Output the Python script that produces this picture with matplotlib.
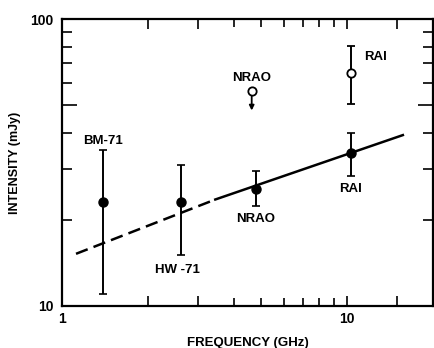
import matplotlib
matplotlib.use("Agg")
import matplotlib.pyplot as plt
from matplotlib.ticker import FixedLocator, FixedFormatter, NullFormatter

plt.rcParams['font.family'] = ['Liberation Sans', 'DejaVu Sans']
plt.rcParams['font.weight'] = 'bold'

# filled points (detections)
det_names = ["BM-71", "HW -71", "NRAO", "RAI"]
det_freq = [1.39, 2.62, 4.78, 10.3]
det_flux = [23.0, 23.0, 25.6, 34.0]
det_lo = [11.0, 15.0, 22.3, 28.4]
det_hi = [35.0, 31.0, 29.5, 40.0]

# open RAI point
rai_freq = 10.3
rai_flux = 65.0
rai_lo = 50.6
rai_hi = 80.5

# NRAO upper limit
nrao_freq = 4.63
nrao_flux = 56.0
nrao_arrow_to = 48.0

# power law fit
fit_dash_x = [1.12, 3.45]
fit_dash_y = [15.2, 23.5]
fit_solid_x = [3.45, 15.7]
fit_solid_y = [23.5, 39.4]

fig = plt.figure(figsize=(4.35, 3.48), dpi=100)
ax = fig.add_axes([0.1425, 0.1207, 0.8525, 0.8247])
ax.set_xscale('log')
ax.set_yscale('log')
ax.set_xlim(1, 20)
ax.set_ylim(10, 100)

for s in ax.spines.values():
    s.set_linewidth(1.6)

# fit line
ax.plot(fit_dash_x, fit_dash_y, color='black', lw=1.8, ls=(0, (5, 2.5)))
ax.plot(fit_solid_x, fit_solid_y, color='black', lw=1.8)

# detections
for f, v, lo, hi in zip(det_freq, det_flux, det_lo, det_hi):
    ax.errorbar([f], [v], yerr=[[v - lo], [hi - v]], fmt='o', color='black',
                ms=6.5, elinewidth=1.4, capsize=3, capthick=1.2, zorder=3)

# open RAI point
ax.errorbar([rai_freq], [rai_flux], yerr=[[rai_flux - rai_lo], [rai_hi - rai_flux]],
            fmt='o', mfc='white', mec='black', mew=1.3, color='black',
            ms=6, elinewidth=1.4, capsize=3, capthick=1.2, zorder=3)

# NRAO upper limit
ax.annotate('', xy=(nrao_freq, nrao_arrow_to), xytext=(nrao_freq, nrao_flux),
            arrowprops=dict(arrowstyle='-|>', color='black', lw=1.3,
                            mutation_scale=7, shrinkA=0, shrinkB=0))
ax.plot([nrao_freq], [nrao_flux], 'o', mfc='white', mec='black', mew=1.3,
        ms=6, zorder=4)

fs = 9.5
ax.annotate(det_names[0], (det_freq[0], det_hi[0]), xytext=(0, 2),
            textcoords='offset points', ha='center', va='bottom', fontsize=fs)
ax.annotate(det_names[1], (det_freq[1], det_lo[1]), xytext=(-3, -6),
            textcoords='offset points', ha='center', va='top', fontsize=fs)
ax.annotate(det_names[2], (det_freq[2], det_lo[2]), xytext=(0, -5),
            textcoords='offset points', ha='center', va='top', fontsize=fs)
ax.annotate(det_names[3], (det_freq[3], det_lo[3]), xytext=(0, -5),
            textcoords='offset points', ha='center', va='top', fontsize=fs)
ax.annotate("NRAO", (nrao_freq, nrao_flux), xytext=(0, 5),
            textcoords='offset points', ha='center', va='bottom', fontsize=fs)
ax.annotate("RAI", (rai_freq, rai_flux), xytext=(10, 11),
            textcoords='offset points', ha='left', va='center', fontsize=fs)

# ticks
ax.xaxis.set_major_locator(FixedLocator([1, 2, 3, 10, 15]))
ax.xaxis.set_major_formatter(FixedFormatter(['1', '', '', '10', '']))
ax.xaxis.set_minor_locator(FixedLocator([4, 5, 6, 7, 8, 9]))
ax.xaxis.set_minor_formatter(NullFormatter())
ax.yaxis.set_major_locator(FixedLocator([10, 50, 100]))
ax.yaxis.set_major_formatter(FixedFormatter(['10', '', '100']))
ax.yaxis.set_minor_locator(FixedLocator([20, 30, 40, 60, 70, 80, 90]))
ax.yaxis.set_minor_formatter(NullFormatter())

ax.tick_params(which='both', direction='in', top=True, right=True, width=1.2,
               labelsize=10)
ax.tick_params(axis='x', which='major', length=7.5, pad=4)
ax.tick_params(axis='x', which='minor', length=6)
ax.tick_params(axis='y', which='major', length=10.5, pad=6)
ax.tick_params(axis='y', which='minor', length=7.5)

ax.set_xlabel("FREQUENCY (GHz)", fontsize=9.5, fontweight='bold', labelpad=8)
ax.set_ylabel("INTENSITY (mJy)", fontsize=9, fontweight='bold', labelpad=7)

fig.savefig("out.png", dpi=100)
